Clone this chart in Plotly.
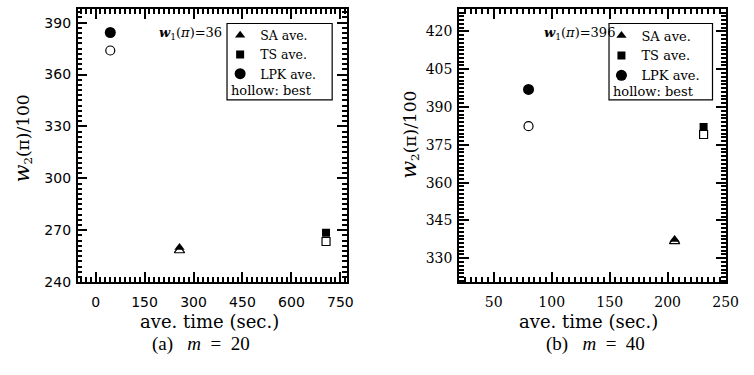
import plotly.graph_objects as go

W, H = 754, 375

methods = ["SA", "TS", "LPK"]
symbols = ["triangle-up", "square", "circle"]
open_symbols = ["triangle-up-open", "square-open", "circle-open"]
filled_sizes = [9, 8, 11]
open_sizes = [9, 8, 9]

# panel (a): m = 20, w1(pi) = 36
a_time = [257, 706, 45]
a_ave = [260.0, 268.5, 384.3]
a_best = [258.3, 263.5, 373.9]

# panel (b): m = 40, w1(pi) = 396
b_time = [206, 231, 80]
b_ave = [337.4, 382.1, 397.0]
b_best = [336.7, 379.1, 382.4]

a_xticks = [0, 150, 300, 450, 600, 750]
a_yticks = [240, 270, 300, 330, 360, 390]
b_xticks = [50, 100, 150, 200, 250]
b_yticks = [330, 345, 360, 375, 390, 405, 420]

fig = go.Figure()

def add_panel(times, ave, best, xa, ya, legend):
    for i, m in enumerate(methods):
        fig.add_trace(go.Scatter(
            x=[times[i]], y=[best[i]], mode="markers", xaxis=xa, yaxis=ya,
            marker=dict(symbol=open_symbols[i], size=open_sizes[i], color="black",
                        line=dict(width=1.2, color="black")),
            showlegend=False, name=m + " best"))
    for i, m in enumerate(methods):
        fig.add_trace(go.Scatter(
            x=[times[i]], y=[ave[i]], mode="markers", xaxis=xa, yaxis=ya,
            marker=dict(symbol=symbols[i], size=filled_sizes[i], color="black",
                        line=dict(width=0)),
            showlegend=True, legend=legend, name=m + " ave."))

add_panel(a_time, a_ave, a_best, "x", "y", "legend")
add_panel(b_time, b_ave, b_best, "x2", "y2", "legend2")

ydom = [1 - 288.3 / H, 1 - 9 / H]

def axis(dom, rng, ticks, minor_dt, font, anchor, standoff):
    return dict(domain=dom, range=rng, tickmode="linear", tick0=ticks[0],
                dtick=ticks[1] - ticks[0],
                ticks="inside", ticklen=10, tickwidth=2, tickcolor="black",
                mirror="allticks", showline=True, linecolor="black", linewidth=1.5,
                showgrid=False, zeroline=False, anchor=anchor,
                ticklabelstandoff=standoff,
                minor=dict(dtick=minor_dt, tick0=ticks[0], ticks="inside", ticklen=5,
                           tickcolor="black", tickwidth=1.5, showgrid=False),
                tickfont=dict(family=font, size=14, color="black"))

fig.update_layout(
    width=W, height=H, margin=dict(l=0, r=0, t=0, b=0),
    paper_bgcolor="white", plot_bgcolor="white",
    xaxis=axis([79 / W, 353 / W], [-55, 770], a_xticks, 15, "DejaVu Sans", "y", 6),
    yaxis=axis(ydom, [240, 398], a_yticks, 3, "DejaVu Sans", "x", 2),
    xaxis2=axis([467 / W, 738.7 / W], [20, 250.3], b_xticks, 5, "DejaVu Serif", "y2", 6),
    yaxis2=axis(ydom, [320.5, 429], b_yticks, 1.5, "DejaVu Serif", "x2", 2),
    legend=dict(x=224 / W, y=1 - 21 / H, xanchor="left", yanchor="top",
                bgcolor="rgba(0,0,0,0)", borderwidth=0, itemwidth=30,
                font=dict(family="DejaVu Serif", size=12.5, color="black"),
                tracegroupgap=0),
    legend2=dict(x=612 / W, y=1 - 21 / H, xanchor="left", yanchor="top",
                 bgcolor="rgba(0,0,0,0)", borderwidth=0, itemwidth=30,
                 font=dict(family="DejaVu Serif", size=13, color="black"),
                 tracegroupgap=0),
)

# legend boxes
for (x0, x1) in [(231, 338), (619.7, 725)]:
    fig.add_shape(type="rect", xref="paper", yref="paper",
                  x0=x0 / W, x1=x1 / W, y0=1 - 102 / H, y1=1 - 24 / H,
                  line=dict(color="black", width=1.2), fillcolor="rgba(0,0,0,0)")

def text(x, y, s, size, family="DejaVu Serif", angle=0, xanchor="center"):
    fig.add_annotation(x=x / W, y=1 - y / H, xref="paper", yref="paper", text=s,
                       showarrow=False, textangle=angle, xanchor=xanchor, yanchor="middle",
                       font=dict(family=family, size=size, color="black"))

ytitle = ('<span style="font-size:21px"><i>w</i></span>'
          '<sub>2</sub>(π)/100')
# axis titles
text(213, 328, "ave. time (sec.)", 18)
text(599, 328, "ave. time (sec.)", 18)
text(23, 142, ytitle, 17, angle=-90)
text(417, 138, ytitle, 17, angle=-90)
# captions
cap = "({})&nbsp;&nbsp;&nbsp;<i>m</i>&nbsp;&nbsp;=&nbsp;&nbsp;{}"
text(205, 352, cap.format("a", 20), 19, family="Liberation Serif")
text(606, 352, cap.format("b", 40), 19, family="Liberation Serif")
# w1 notes
text(160, 34, "<b><i>w</i></b><sub>1</sub>(<i>π</i>)=36", 13, xanchor="left")
text(552, 34, "<b><i>w</i></b><sub>1</sub>(<i>π</i>)=396", 13, xanchor="left")
# hollow: best
text(233, 92, "hollow: best", 13, xanchor="left")
text(621.5, 93, "hollow: best", 13, xanchor="left")

fig.write_html("out.html")
